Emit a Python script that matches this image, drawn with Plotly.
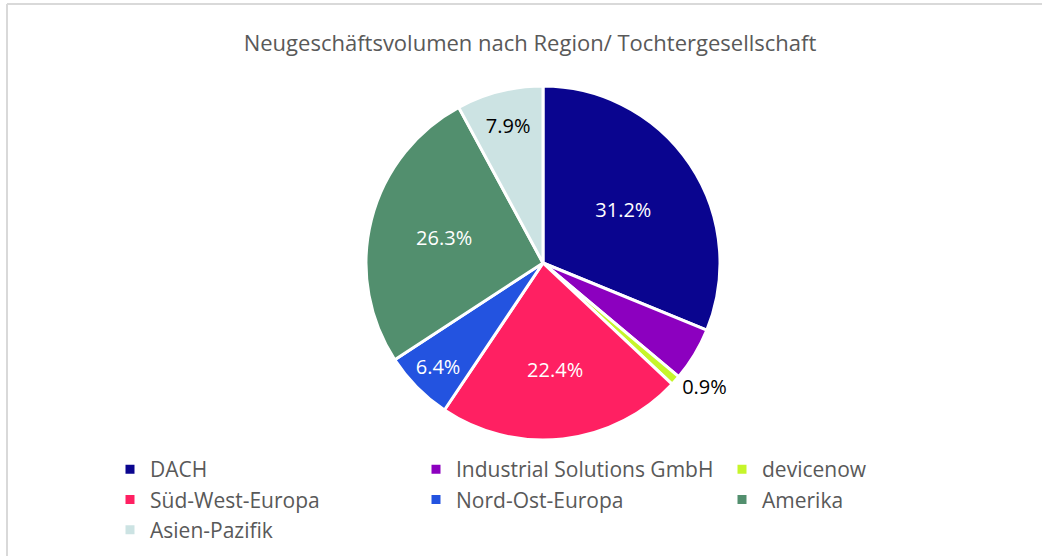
import plotly.graph_objects as go

categories = ["DACH", "Industrial Solutions GmbH", "devicenow", "Süd-West-Europa",
              "Nord-Ost-Europa", "Amerika", "Asien-Pazifik"]
shares = [31.2, 4.9, 0.9, 22.4, 6.4, 26.3, 7.9]
colors = ["#0A058F", "#8C00BF", "#C6F52A", "#FF2062", "#2353E0", "#528F6E", "#CCE3E3"]
label_templates = ["%{percent:.1%}", "", "%{percent:.1%}", "%{percent:.1%}",
                   "%{percent:.1%}", "%{percent:.1%}", "%{percent:.1%}"]
label_positions = ["inside", "inside", "outside", "inside", "inside", "inside", "inside"]
label_colors = ["white", "white", "black", "white", "white", "white", "black"]

W, H = 1042, 556
FONT = "Open Sans"

fig = go.Figure(go.Pie(
    labels=categories,
    values=shares,
    sort=False,
    direction="clockwise",
    rotation=0,
    marker=dict(colors=colors, line=dict(color="white", width=3)),
    texttemplate=label_templates,
    textposition=label_positions,
    insidetextorientation="horizontal",
    textfont=dict(family=FONT, size=20, color=label_colors),
    outsidetextfont=dict(family=FONT, size=20, color="black"),
    domain=dict(x=[366 / W, 720 / W], y=[1 - 440 / H, 1 - 86 / H]),
    automargin=False,
    hoverinfo="label+percent",
))

fig.update_layout(
    width=W, height=H,
    margin=dict(l=0, r=0, t=0, b=0),
    paper_bgcolor="white",
    plot_bgcolor="white",
    font=dict(family=FONT, color="#595959"),
    title=dict(text="Neugeschäftsvolumen nach Region/ Tochtergesellschaft",
               x=530 / W, xanchor="center", y=1 - 43 / H, yanchor="middle",
               font=dict(family=FONT, size=22, color="#595959")),
    legend=dict(orientation="h", x=110 / W, xanchor="left", y=1 - 449 / H, yanchor="top",
                entrywidth=261, entrywidthmode="pixels",
                font=dict(family=FONT, size=21, color="#595959"),
                traceorder="normal"),
    shapes=[
        dict(type="line", xref="paper", yref="paper", x0=7 / W, x1=1, y0=1 - 4 / H, y1=1 - 4 / H,
             line=dict(color="#D9D9D9", width=2)),
        dict(type="line", xref="paper", yref="paper", x0=7 / W, x1=7 / W, y0=0, y1=1 - 4 / H,
             line=dict(color="#D9D9D9", width=2)),
    ],
)

fig.write_html("out.html", config={"displayModeBar": False},
               post_script="document.body.style.margin='0';document.body.style.overflow='hidden';")
